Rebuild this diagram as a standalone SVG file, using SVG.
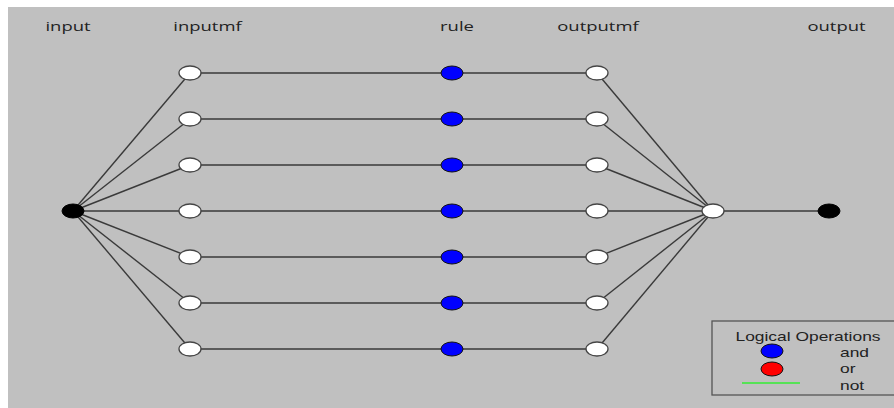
<svg xmlns="http://www.w3.org/2000/svg" width="894" height="408" viewBox="0 0 894 408">
  <style>
    .lbl { font-family: "Open Sans", "Liberation Sans", Arial, sans-serif; font-size: 13px; fill: #222; text-anchor: middle; }
    .leg { font-family: "Liberation Sans", Arial, sans-serif; font-size: 12px; fill: #222; }
    .edge { stroke: #3a3a3a; stroke-width: 1.4; fill: none; }
    .mf { fill: #fff; stroke: #444; stroke-width: 1.3; }
    .rule { fill: #0000ff; stroke: #111; stroke-width: 1; }
    .io { fill: #000; stroke: #000; stroke-width: 1; }
  </style>
  <rect x="0" y="0" width="894" height="408" fill="#fff"/>
  <rect x="8" y="7" width="886" height="401" fill="#c0c0c0"/>

  <!-- column headers (horizontally widened lettering) -->
  <text class="lbl" transform="translate(68,31) scale(1.42,1)">input</text>
  <text class="lbl" transform="translate(207.5,31) scale(1.42,1)">inputmf</text>
  <text class="lbl" transform="translate(457,31) scale(1.42,1)">rule</text>
  <text class="lbl" transform="translate(598,31) scale(1.42,1)">outputmf</text>
  <text class="lbl" transform="translate(836.5,31) scale(1.42,1)">output</text>

  <!-- connectors -->
  <g id="edges" class="edge">
    <line x1="73" y1="211" x2="190" y2="73"/>
    <line x1="73" y1="211" x2="190" y2="119"/>
    <line x1="73" y1="211" x2="190" y2="165"/>
    <line x1="73" y1="211" x2="190" y2="211"/>
    <line x1="73" y1="211" x2="190" y2="257"/>
    <line x1="73" y1="211" x2="190" y2="303"/>
    <line x1="73" y1="211" x2="190" y2="349"/>
    <line x1="190" y1="73" x2="597" y2="73"/>
    <line x1="190" y1="119" x2="597" y2="119"/>
    <line x1="190" y1="165" x2="597" y2="165"/>
    <line x1="190" y1="211" x2="597" y2="211"/>
    <line x1="190" y1="257" x2="597" y2="257"/>
    <line x1="190" y1="303" x2="597" y2="303"/>
    <line x1="190" y1="349" x2="597" y2="349"/>
    <line x1="597" y1="73" x2="713" y2="211"/>
    <line x1="597" y1="119" x2="713" y2="211"/>
    <line x1="597" y1="165" x2="713" y2="211"/>
    <line x1="597" y1="211" x2="713" y2="211"/>
    <line x1="597" y1="257" x2="713" y2="211"/>
    <line x1="597" y1="303" x2="713" y2="211"/>
    <line x1="597" y1="349" x2="713" y2="211"/>
    <line x1="713" y1="211" x2="829" y2="211"/>
  </g>

  <!-- input node -->
  <g id="input"><ellipse class="io" cx="73" cy="211" rx="11" ry="7"/></g>

  <!-- input membership functions -->
  <g id="inputmf1"><ellipse class="mf" cx="190" cy="73" rx="11" ry="7"/></g>
  <g id="inputmf2"><ellipse class="mf" cx="190" cy="119" rx="11" ry="7"/></g>
  <g id="inputmf3"><ellipse class="mf" cx="190" cy="165" rx="11" ry="7"/></g>
  <g id="inputmf4"><ellipse class="mf" cx="190" cy="211" rx="11" ry="7"/></g>
  <g id="inputmf5"><ellipse class="mf" cx="190" cy="257" rx="11" ry="7"/></g>
  <g id="inputmf6"><ellipse class="mf" cx="190" cy="303" rx="11" ry="7"/></g>
  <g id="inputmf7"><ellipse class="mf" cx="190" cy="349" rx="11" ry="7"/></g>

  <!-- rules -->
  <g id="rule1"><ellipse class="rule" cx="452" cy="73" rx="11" ry="7"/></g>
  <g id="rule2"><ellipse class="rule" cx="452" cy="119" rx="11" ry="7"/></g>
  <g id="rule3"><ellipse class="rule" cx="452" cy="165" rx="11" ry="7"/></g>
  <g id="rule4"><ellipse class="rule" cx="452" cy="211" rx="11" ry="7"/></g>
  <g id="rule5"><ellipse class="rule" cx="452" cy="257" rx="11" ry="7"/></g>
  <g id="rule6"><ellipse class="rule" cx="452" cy="303" rx="11" ry="7"/></g>
  <g id="rule7"><ellipse class="rule" cx="452" cy="349" rx="11" ry="7"/></g>

  <!-- output membership functions -->
  <g id="outputmf1"><ellipse class="mf" cx="597" cy="73" rx="11" ry="7"/></g>
  <g id="outputmf2"><ellipse class="mf" cx="597" cy="119" rx="11" ry="7"/></g>
  <g id="outputmf3"><ellipse class="mf" cx="597" cy="165" rx="11" ry="7"/></g>
  <g id="outputmf4"><ellipse class="mf" cx="597" cy="211" rx="11" ry="7"/></g>
  <g id="outputmf5"><ellipse class="mf" cx="597" cy="257" rx="11" ry="7"/></g>
  <g id="outputmf6"><ellipse class="mf" cx="597" cy="303" rx="11" ry="7"/></g>
  <g id="outputmf7"><ellipse class="mf" cx="597" cy="349" rx="11" ry="7"/></g>

  <!-- aggregation and output -->
  <g id="aggregate"><ellipse class="mf" cx="713" cy="211" rx="11" ry="7"/></g>
  <g id="output"><ellipse class="io" cx="829" cy="211" rx="11" ry="7"/></g>

  <!-- legend -->
  <g id="legend">
    <rect x="712" y="321" width="190" height="74" fill="none" stroke="#555" stroke-width="1.3"/>
    <text class="leg" text-anchor="middle" transform="translate(808,341) scale(1.45,1)">Logical Operations</text>
    <ellipse cx="772" cy="351" rx="11" ry="7" fill="#0000ff" stroke="#111" stroke-width="1"/>
    <ellipse cx="772" cy="369" rx="11" ry="7" fill="#ff0000" stroke="#111" stroke-width="1"/>
    <line x1="742" y1="383" x2="800" y2="383" stroke="#33ee33" stroke-width="1.5"/>
    <text class="leg" transform="translate(840,357) scale(1.45,1)">and</text>
    <text class="leg" transform="translate(840,373) scale(1.45,1)">or</text>
    <text class="leg" transform="translate(840,390) scale(1.45,1)">not</text>
  </g>
</svg>
